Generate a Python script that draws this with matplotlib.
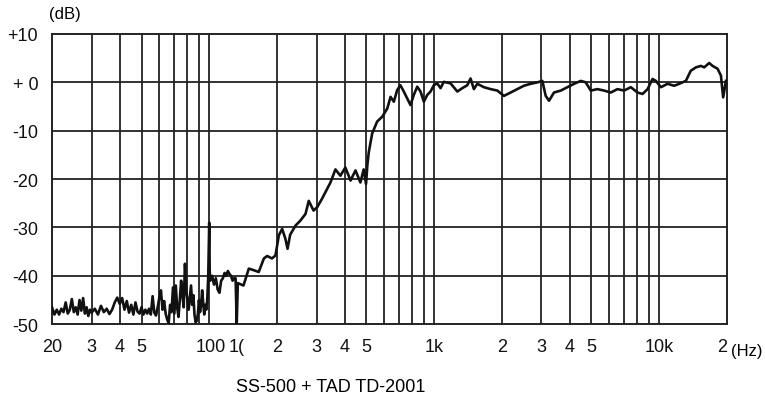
import matplotlib.pyplot as plt

plt.rcParams['font.family'] = ['Liberation Sans', 'DejaVu Sans']

freq_hz = [
    20, 20.5, 21, 21.5, 22, 22.5, 23, 23.5, 24, 24.5, 25, 25.5, 26, 26.5, 27, 27.5,
    28, 28.5, 29, 29.5, 30, 31, 32, 33, 34, 35, 36, 37, 38, 39, 40, 41, 42, 43, 44,
    45, 46, 47, 48, 49, 50, 51, 52, 53, 54, 55, 56, 57, 58, 59, 60, 61, 62, 63, 64,
    65, 66, 67, 68, 69, 70, 71, 72, 73, 74, 75, 76, 77, 78, 79, 80, 81, 82, 83, 84,
    85, 86, 87, 88, 89, 90, 91, 92, 93, 94, 95, 96, 97, 98, 99, 100, 100.5, 101,
    103, 105, 107, 109, 111, 113, 115, 117, 119, 121, 123, 125, 127, 129, 131,
    132.5, 134, 142, 150, 157, 166, 175, 181, 190, 197, 204, 211, 218, 223, 229,
    242, 254, 268, 277, 291, 302, 317, 334, 346, 364, 383, 403, 425, 447, 470, 486,
    498, 505, 512, 530, 558, 588, 619, 640, 662, 685, 708, 733, 759, 785, 812, 841,
    870, 900, 932, 964, 997, 1032, 1068, 1104, 1183, 1268, 1334, 1404, 1452, 1502,
    1556, 1664, 1783, 1910, 2044, 2188, 2344, 2508, 2686, 2878, 3028, 3134, 3242,
    3412, 3656, 3914, 4190, 4488, 4722, 4970, 5322, 5698, 6100, 6532, 6994, 7490,
    8020, 8446, 8892, 9356, 9684, 10190, 10916, 11674, 12296, 13160, 13840, 14588,
    15348, 15880, 16712, 17300, 18212, 18840, 19280, 19840,
]
level_db = [
    -46.5, -48, -47, -48, -46.8, -47.5, -45.5, -47.8, -47, -44.8, -47.5, -46.5, -48,
    -45, -47.2, -44.6, -47.8, -46.5, -48.3, -47, -47.6, -46.8, -48, -46.2, -47.5,
    -46.8, -47.9, -47, -45.5, -44.5, -45.8, -44.6, -47, -45.2, -47.6, -46, -48,
    -45.5, -47.4, -47.8, -46.5, -48, -47, -47.8, -46.8, -48, -44.2, -47.6, -48.2,
    -46.5, -44.5, -43, -47, -45.2, -47.8, -49, -49.8, -46, -47.5, -42.4, -47.8,
    -42, -46.5, -48.5, -45, -41, -44, -46.5, -37.5, -43, -45, -47, -44.5, -42, -46,
    -44, -48, -49.6, -49.3, -48, -45, -47.5, -46, -43, -45.5, -48, -46, -47, -45,
    -40, -29, -39, -41, -40, -41.8, -40.5, -42.8, -43.5, -41, -40.5, -39.4, -40,
    -39, -39.6, -40, -41, -40.5, -40.5, -50, -41.5, -42, -38.5, -38.8, -39.2, -36.4,
    -35.9, -36.4, -35.8, -31.6, -30.3, -32.3, -34.4, -31.5, -29.6, -28.6, -27.2,
    -24.5, -26.5, -25.8, -24.1, -22.1, -20.7, -18, -19.3, -17.6, -20.3, -18.2,
    -20.7, -18, -21, -17, -14.5, -10.6, -8.1, -7.1, -5.4, -3, -4, -1.6, -0.6, -1.9,
    -3.3, -4.7, -2.6, -0.9, -1.9, -4, -2.6, -1.9, -0.6, -0.2, -1.2, 0.1, -0.2, -1.9,
    -1.2, -0.6, 0.8, -1.4, -0.3, -1, -1.4, -1.7, -2.8, -2.1, -1.4, -0.7, -0.3, 0,
    0.3, -2.8, -3.8, -2.1, -1.7, -1, -0.3, 0.3, 0, -1.7, -1.4, -1.7, -2.1, -1.4,
    -1.7, -1, -2.1, -2.4, -1.4, 0.7, 0.3, -1, -0.3, -0.7, -0.3, 0.3, 2.4, 3.1, 3.4,
    3.1, 4, 3.4, 2.8, 1.4, -3.1, 0.3,
]

grid_freqs = [30, 40, 50, 60, 70, 80, 90, 100, 200, 300, 400, 500, 600, 700, 800,
              900, 1000, 2000, 3000, 4000, 5000, 6000, 7000, 8000, 9000, 10000]
tick_freqs = [20, 30, 40, 50, 102, 132, 200, 300, 400, 500, 1000, 2000, 3000,
              4000, 5000, 10000, 19000]
tick_labels = ['20', '3', '4', '5', '100', '1(', '2', '3', '4', '5', '1k', '2',
               '3', '4', '5', '10k', '2']
db_ticks = [10, 0, -10, -20, -30, -40, -50]
db_labels = ['+10', '+ 0', '-10', '-20', '-30', '-40', '-50']

fig = plt.figure(figsize=(7.65, 4.02), dpi=100)
ax = fig.add_axes([0.068, 0.191, 0.882, 0.722])

for f in grid_freqs:
    ax.axvline(f, color='#222222', lw=1.3, zorder=1)
for d in db_ticks[1:-1]:
    ax.axhline(d, color='#222222', lw=1.3, zorder=1)

ax.plot(freq_hz, level_db, color='#111111', lw=1.9, zorder=3)

ax.set_xscale('log')
ax.set_xlim(20, 20000)
ax.set_ylim(-50, 10)
ax.minorticks_off()
ax.set_xticks(tick_freqs)
ax.set_xticklabels(tick_labels, fontsize=13)
ax.set_yticks(db_ticks)
ax.set_yticklabels(db_labels, fontsize=13)
ax.tick_params(length=0, pad=10, colors='#111111')
for s in ax.spines.values():
    s.set_linewidth(1.4)
    s.set_color('#222222')

fig.text(0.976, 0.125, '(Hz)', fontsize=12, ha='center', va='center')
fig.text(0.085, 0.965, '(dB)', fontsize=12, ha='center', va='center')
fig.text(0.432, 0.035, 'SS-500 + TAD TD-2001', fontsize=13, ha='center', va='center')

fig.savefig('out.png', dpi=100)
